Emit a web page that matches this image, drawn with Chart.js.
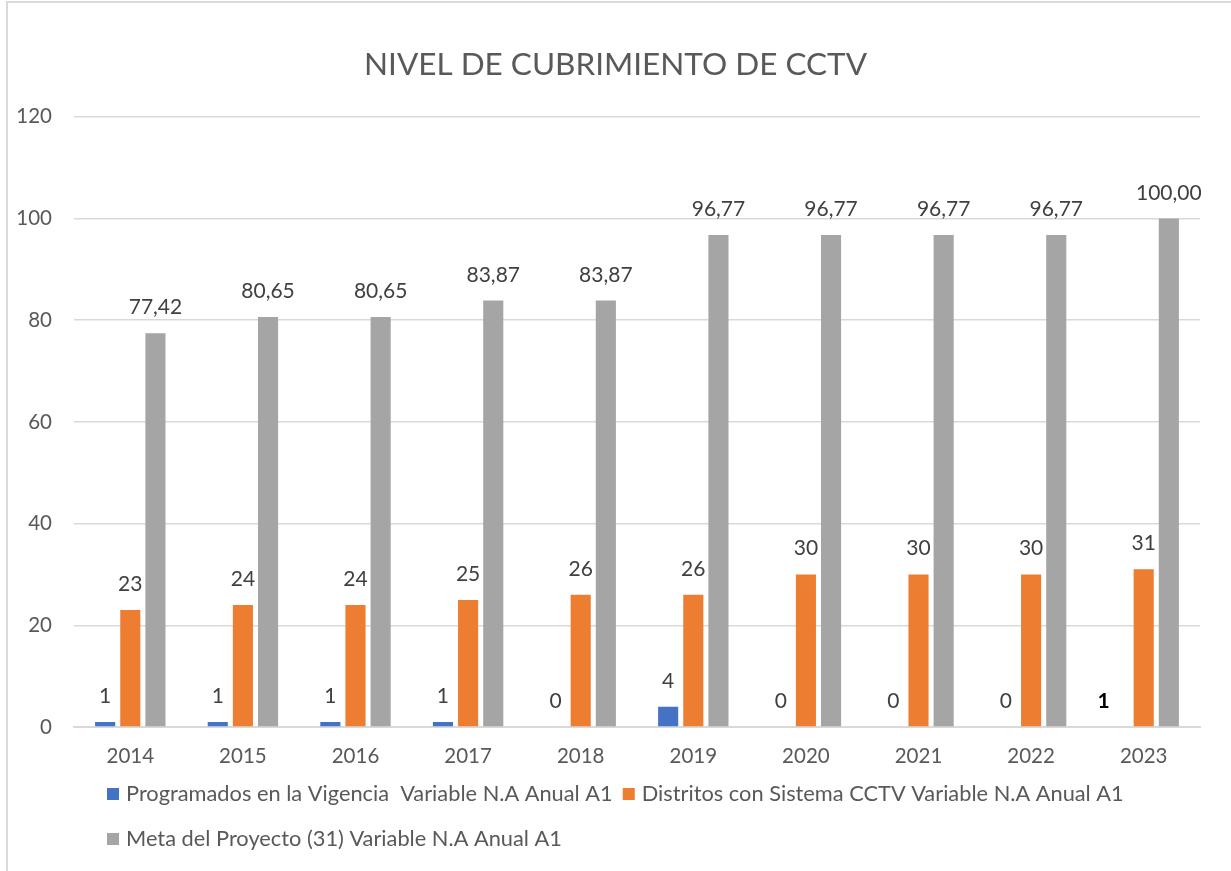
<!DOCTYPE html>
<html><head><meta charset="utf-8">
<script src="https://cdn.jsdelivr.net/npm/chart.js@4.4.1/dist/chart.umd.min.js"></script>
<style>html,body{margin:0;padding:0;background:#fff}#wrap{position:relative;width:1231px;height:871px}</style>
</head><body><div id="wrap"><canvas id="c" width="1231" height="871"></canvas></div>
<script>
const years = ['2014','2015','2016','2017','2018','2019','2020','2021','2022','2023'];
const programados = [1,1,1,1,0,4,0,0,0,0];
const programadosLabels = ['1','1','1','1','0','4','0','0','0','1'];
const distritos = [23,24,24,25,26,26,30,30,30,31];
const meta = [77.42,80.65,80.65,83.87,83.87,96.77,96.77,96.77,96.77,100.00];
const seriesNames = ['Programados en la Vigencia  Variable N.A Anual A1','Distritos con Sistema CCTV Variable N.A Anual A1','Meta del Proyecto (31) Variable N.A Anual A1'];
const seriesColors = ['#4472C4','#ED7D31','#A5A5A5'];
const yMin = 0, yMax = 120, yStep = 20;
const titleText = 'NIVEL DE CUBRIMIENTO DE CCTV';

const FONT = "Lato, 'Open Sans', sans-serif";
const TXT = '#595959';
const GRID = '#d9d9d9';

const fmt = v => v.toFixed(2).replace('.', ',');
const labelSets = [programadosLabels, distritos.map(String), meta.map(fmt)];

const dataLabelPlugin = {
  id: 'dataLabels',
  afterDatasetsDraw(chart) {
    const ctx = chart.ctx;
    ctx.save();
    ctx.textAlign = 'center';
    ctx.textBaseline = 'alphabetic';
    chart.data.datasets.forEach((ds, di) => {
      const meta = chart.getDatasetMeta(di);
      meta.data.forEach((el, i) => {
        const txt = labelSets[di][i];
        const special = (di === 0 && String(ds.data[i]) !== txt);
        ctx.font = (special ? 'bold ' : '') + '21px ' + FONT;
        ctx.fillStyle = special ? '#000000' : '#404040';
        ctx.fillText(txt, el.x - (special ? 15 : 0), el.y - 19);
      });
    });
    ctx.restore();
  }
};

const legendPlugin = {
  id: 'customLegend',
  afterDraw(chart) {
    const ctx = chart.ctx;
    ctx.save();
    ctx.font = '21.8px ' + FONT;
    ctx.textBaseline = 'middle';
    ctx.textAlign = 'left';
    const box = 12, gapText = 7, gapItem = 10;
    const rows = [[0,1],[2]];
    const widths = seriesNames.map(n => box + gapText + ctx.measureText(n).width);
    const row0w = rows[0].reduce((s,i)=>s+widths[i],0) + gapItem*(rows[0].length-1);
    const startX = Math.round((chart.width - row0w)/2);
    const rowY = [794, 839];
    rows.forEach((r, ri) => {
      let x = startX;
      r.forEach(i => {
        ctx.fillStyle = seriesColors[i];
        ctx.fillRect(x, rowY[ri] - box/2, box, box);
        ctx.fillStyle = TXT;
        ctx.fillText(seriesNames[i], x + box + gapText, rowY[ri]);
        x += widths[i] + gapItem;
      });
    });
    // frame edges
    ctx.fillStyle = GRID;
    ctx.fillRect(6, 1, 2, chart.height);
    ctx.fillRect(6, 1, chart.width, 2);
    ctx.restore();
  }
};

new Chart(document.getElementById('c'), {
  type: 'bar',
  data: {
    labels: years,
    datasets: [
      {label: seriesNames[0], data: programados, backgroundColor: seriesColors[0]},
      {label: seriesNames[1], data: distritos, backgroundColor: seriesColors[1]},
      {label: seriesNames[2], data: meta, backgroundColor: seriesColors[2]}
    ]
  },
  options: {
    responsive: false,
    animation: false,
    devicePixelRatio: 1,
    categoryPercentage: 0.67,
    barPercentage: 0.8,
    layout: {padding: {left: 0, right: 0, top: 0, bottom: 0}},
    plugins: {
      legend: {display: false},
      tooltip: {enabled: false},
      title: {
        display: true, text: titleText, color: TXT,
        font: {family: FONT, size: 31.5, weight: 'normal'},
        padding: {top: 46, bottom: 33}
      }
    },
    scales: {
      x: {
        grid: {display: false, drawTicks: false},
        border: {display: true, color: GRID, width: 2},
        ticks: {color: TXT, font: {family: FONT, size: 20.5}, padding: 17},
        afterFit(s) { s.height = 144; }
      },
      y: {
        min: yMin, max: yMax,
        ticks: {stepSize: yStep, color: TXT, font: {family: FONT, size: 20.5}, padding: 22},
        grid: {color: GRID, lineWidth: 1.5, drawTicks: false},
        border: {display: false},
        afterFit(s) { s.width = 74; }
      },
      yRight: {
        position: 'right',
        display: true,
        grid: {display: false, drawTicks: false},
        ticks: {display: false},
        border: {display: false},
        afterFit(s) { s.width = 31; }
      }
    }
  },
  plugins: [dataLabelPlugin, legendPlugin]
});
</script></body></html>
